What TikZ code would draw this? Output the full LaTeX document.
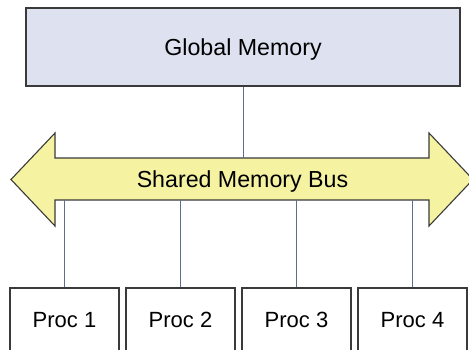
\documentclass[tikz,border=0pt]{standalone}
\usepackage{fontspec}
\setmainfont{Liberation Sans}
\definecolor{memfill}{HTML}{DDE1F0}
\definecolor{busfill}{HTML}{F5F2A2}
\definecolor{edge}{HTML}{3A3A3A}
\definecolor{wire}{HTML}{5B6E8E}
\tikzset{
  membox/.style={draw=edge, line width=1.1pt, fill=memfill, rectangle,
    minimum width=434pt, minimum height=78pt, inner sep=0pt},
  procbox/.style={draw=edge, line width=1.1pt, fill=white, rectangle,
    minimum width=109pt, minimum height=72pt, inner sep=0pt},
  biglabel/.style={font=\fontsize{23.2}{27}\selectfont, inner sep=0pt},
  proclabel/.style={font=\fontsize{22}{26}\selectfont, inner sep=0pt},
  busbody/.style={draw=edge, line width=1.1pt, fill=busfill, line join=miter},
  wireline/.style={draw=wire, line width=0.9pt}
}
\begin{document}
\begin{tikzpicture}[x=1pt,y=-1pt]
  \clip (0,0) rectangle (469,350);
  \fill[white] (0,0) rectangle (469,350);

  % global memory
  \node[membox] (gm) at (243,47) {};
  \node[biglabel] (gmlabel) at (243,50) {Global Memory};

  % shared bus: double-headed block arrow
  \path[busbody] (11,179.5) -- (55,133) -- (55,158) -- (429,158) -- (429,133)
    -- (473,179.5) -- (429,226) -- (429,200) -- (55,200) -- (55,226) -- cycle;
  \node[minimum width=374pt, minimum height=42pt, inner sep=0pt] (bus) at (242,179) {};
  \node[biglabel] (buslabel) at (242.5,182) {Shared Memory Bus};

  % processors
  \node[procbox] (p1) at (64.5,324) {};
  \node[procbox] (p2) at (180.5,324) {};
  \node[procbox] (p3) at (296.5,324) {};
  \node[procbox] (p4) at (412.5,324) {};
  \node[proclabel] (l1) at (64.5,320) {Proc 1};
  \node[proclabel] (l2) at (180.5,320) {Proc 2};
  \node[proclabel] (l3) at (296.5,320) {Proc 3};
  \node[proclabel] (l4) at (412.5,320) {Proc 4};

  % links
  \draw[wireline] (gm.south) -- (gm.south |- bus.north);
  \foreach \p in {p1,p2,p3,p4}
    \draw[wireline] (\p.north) -- (\p.north |- bus.south);
\end{tikzpicture}
\end{document}
